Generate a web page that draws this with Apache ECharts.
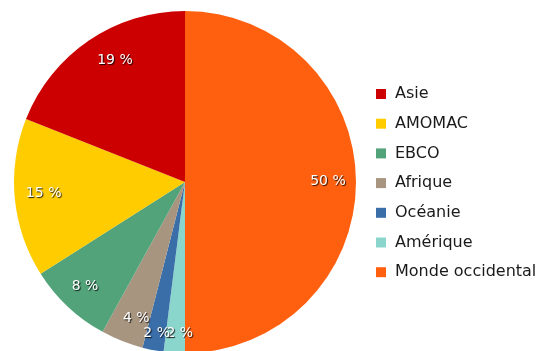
<!DOCTYPE html>
<html>
<head>
<meta charset="utf-8">
<script src="https://cdn.jsdelivr.net/npm/echarts@6/dist/echarts.min.js"></script>
<style>
  html, body { margin: 0; padding: 0; background: #ffffff; }
  #chart { width: 553px; height: 351px; }
</style>
</head>
<body>
<div id="chart"></div>
<script>
// Regions, in drawing order (clockwise from 12 o'clock)
const regions = ['Monde occidental', 'Amérique', 'Océanie', 'Afrique', 'EBCO', 'AMOMAC', 'Asie'];
const shares = [50, 2, 2, 4, 8, 15, 19];
const colors = ['#ff6010', '#8ad6cc', '#3a6ea8', '#a89580', '#52a37a', '#ffcc00', '#cc0000'];
// Legend lists the regions in reverse order
const legendOrder = ['Asie', 'AMOMAC', 'EBCO', 'Afrique', 'Océanie', 'Amérique', 'Monde occidental'];

// Small hand nudges so the labels of the thin slices stay readable
const labelNudge = [[-3, -1], [4, 6], [-1, 8], [5, 1], [0, -2], [4, -2], [12, -1]];

const center = [185, 182];
const font = 'DejaVu Sans';

const pieData = regions.map((name, i) => ({
  name: name,
  value: shares[i],
  itemStyle: { color: colors[i] }
}));

// Same slices, invisible, only used to carry the percentage labels
const labelData = regions.map((name, i) => ({
  name: name,
  value: shares[i],
  itemStyle: { color: 'rgba(0,0,0,0)' },
  label: { offset: labelNudge[i] }
}));

const chart = echarts.init(document.getElementById('chart'), null, { renderer: 'canvas' });
chart.setOption({
  animation: false,
  backgroundColor: '#ffffff',
  legend: {
    orient: 'vertical',
    left: 376,
    top: 84,
    padding: 0,
    data: legendOrder,
    icon: 'rect',
    itemWidth: 10,
    itemHeight: 10,
    itemGap: 9.7,
    textStyle: { fontFamily: font, fontSize: 16, color: '#1a1a1a', lineHeight: 20, padding: [0, 0, 0, 4] }
  },
  series: [
    {
      type: 'pie',
      center: center,
      radius: [0, 171],
      startAngle: 90,
      clockwise: true,
      silent: true,
      label: { show: false },
      labelLine: { show: false },
      itemStyle: { borderWidth: 0 },
      data: pieData
    },
    {
      // Percentage labels, placed on a ring near the rim
      type: 'pie',
      center: center,
      radius: [115, 171],
      startAngle: 90,
      clockwise: true,
      silent: true,
      avoidLabelOverlap: false,
      labelLayout: { hideOverlap: false },
      labelLine: { show: false },
      label: {
        show: true,
        position: 'inside',
        formatter: '{c} %',
        fontFamily: font,
        fontSize: 14,
        color: '#ffffff',
        textShadowColor: 'rgba(0,0,0,0.85)',
        textShadowOffsetX: 1,
        textShadowOffsetY: 1,
        textShadowBlur: 1
      },
      data: labelData
    }
  ]
});
</script>
</body>
</html>
